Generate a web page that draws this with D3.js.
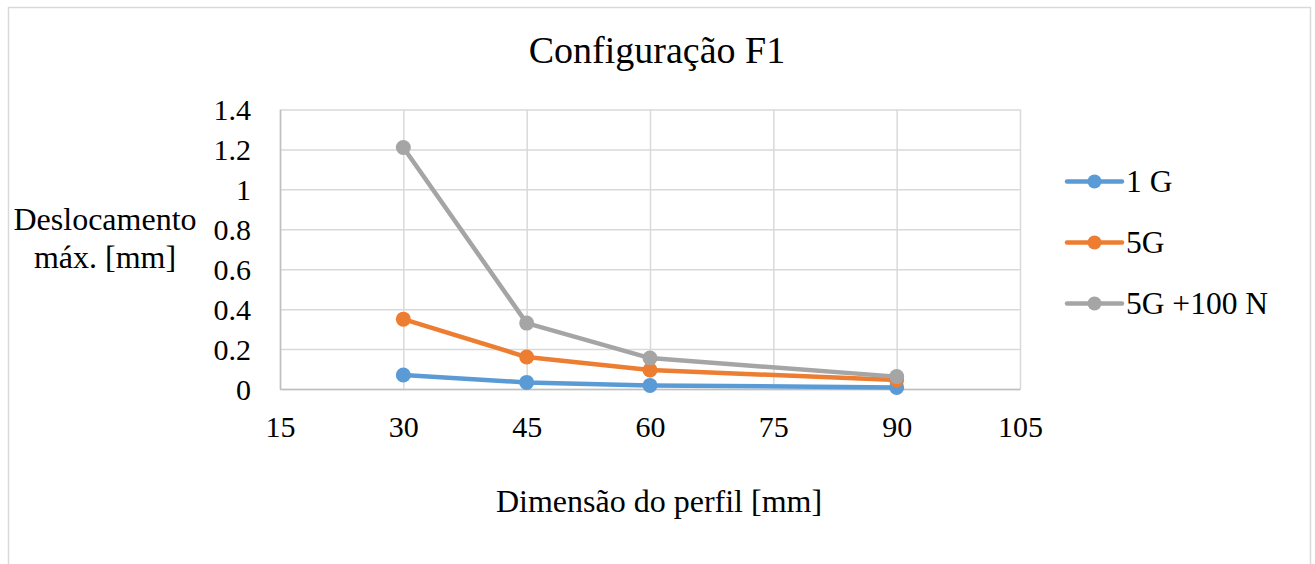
<!DOCTYPE html>
<html>
<head>
<meta charset="utf-8">
<script src="https://cdn.jsdelivr.net/npm/d3@7"></script>
<style>
  body { margin: 0; background: #fff; }
  text { font-family: "Liberation Serif", "Times New Roman", serif; fill: #000; }
</style>
</head>
<body>
<div id="chart"></div>
<script>
// data
var dims = [30, 45, 60, 90];
var g1 = [0.07, 0.033, 0.018, 0.008];
var g5 = [0.35, 0.16, 0.095, 0.045];
var g5n100 = [1.21, 0.33, 0.155, 0.062];
var seriesNames = ["1 G", "5G", "5G +100 N"];
var seriesColors = ["#5B9BD5", "#ED7D31", "#A5A5A5"];
var xTicks = [15, 30, 45, 60, 75, 90, 105];
var yTicks = [0, 0.2, 0.4, 0.6, 0.8, 1, 1.2, 1.4];

var svgWidth = 1315;
var svgHeight = 564;

var margin = { top: 109.5, right: 295, bottom: 175, left: 280 };
var width = svgWidth - margin.left - margin.right;
var height = svgHeight - margin.top - margin.bottom;

var svg = d3.select("#chart")
  .append("svg")
  .attr("width", svgWidth)
  .attr("height", svgHeight);

// chart border
svg.append("rect")
  .attr("x", 8.5)
  .attr("y", 7.5)
  .attr("width", 1302)
  .attr("height", 600)
  .attr("fill", "#fff")
  .attr("stroke", "#d9d9d9")
  .attr("stroke-width", 1.5);

var chartGroup = svg.append("g")
  .attr("transform", `translate(${margin.left}, ${margin.top})`);

var x = d3.scaleLinear().domain([15, 105]).range([0, width]);
var y = d3.scaleLinear().domain([0, 1.4]).range([height, 0]);

// gridlines
chartGroup.append("g")
  .call(d3.axisLeft(y).tickValues(yTicks).tickSize(-width).tickFormat(""))
  .call(g => g.select(".domain").remove())
  .call(g => g.selectAll("line").attr("stroke", "#d9d9d9").attr("stroke-width", 1.5));

chartGroup.append("g")
  .call(d3.axisBottom(x).tickValues(xTicks).tickSize(height).tickFormat(""))
  .call(g => g.select(".domain").remove())
  .call(g => g.selectAll("line").attr("stroke", "#d9d9d9").attr("stroke-width", 1.5));

// axes
var bottomAxis = d3.axisBottom(x).tickValues(xTicks).tickSize(0).tickPadding(27);
var leftAxis = d3.axisLeft(y).tickValues(yTicks).tickSize(0).tickPadding(29)
  .tickFormat(d3.format("~g"));

chartGroup.append("g")
  .attr("transform", `translate(0, ${height})`)
  .call(bottomAxis)
  .call(g => g.select(".domain").attr("stroke", "#bfbfbf").attr("stroke-width", 1.5))
  .call(g => g.selectAll("text").style("font-size", "30px").attr("font-family", null));

chartGroup.append("g")
  .call(leftAxis)
  .call(g => g.select(".domain").attr("stroke", "#bfbfbf").attr("stroke-width", 1.5))
  .call(g => g.selectAll("text").style("font-size", "30px").attr("font-family", null).attr("dy", "0.34em"));

// series
var allSeries = [g1, g5, g5n100];
var line = d3.line()
  .x((d, i) => x(dims[i]))
  .y(d => y(d));

allSeries.forEach(function(vals, s) {
  chartGroup.append("path")
    .datum(vals)
    .attr("fill", "none")
    .attr("stroke", seriesColors[s])
    .attr("stroke-width", 4.5)
    .attr("stroke-linejoin", "round")
    .attr("d", line);

  chartGroup.selectAll(".dot" + s)
    .data(vals)
    .enter()
    .append("circle")
    .attr("cx", (d, i) => x(dims[i]))
    .attr("cy", d => y(d))
    .attr("r", 7.5)
    .attr("fill", seriesColors[s]);
});

// legend
var legend = svg.append("g");
seriesNames.forEach(function(name, i) {
  var ly = 181.5 + i * 61;
  legend.append("line")
    .attr("x1", 1067).attr("x2", 1122)
    .attr("y1", ly).attr("y2", ly)
    .attr("stroke", seriesColors[i])
    .attr("stroke-width", 4.5)
    .attr("stroke-linecap", "round");
  legend.append("circle")
    .attr("cx", 1094.5).attr("cy", ly)
    .attr("r", 7)
    .attr("fill", seriesColors[i]);
  legend.append("text")
    .attr("x", 1126)
    .attr("y", ly)
    .attr("dy", "0.34em")
    .style("font-size", "31.5px")
    .text(name);
});

// title
svg.append("text")
  .attr("x", 657)
  .attr("y", 63)
  .attr("text-anchor", "middle")
  .style("font-size", "38px")
  .text("Configuração F1");

// axis titles
svg.append("text")
  .attr("x", 659)
  .attr("y", 512)
  .attr("text-anchor", "middle")
  .style("font-size", "32px")
  .text("Dimensão do perfil [mm]");

var yTitle = svg.append("text")
  .attr("text-anchor", "middle")
  .style("font-size", "32px");
yTitle.append("tspan").attr("x", 105).attr("y", 230).text("Deslocamento");
yTitle.append("tspan").attr("x", 105).attr("y", 268).text("máx. [mm]");
</script>
</body>
</html>
